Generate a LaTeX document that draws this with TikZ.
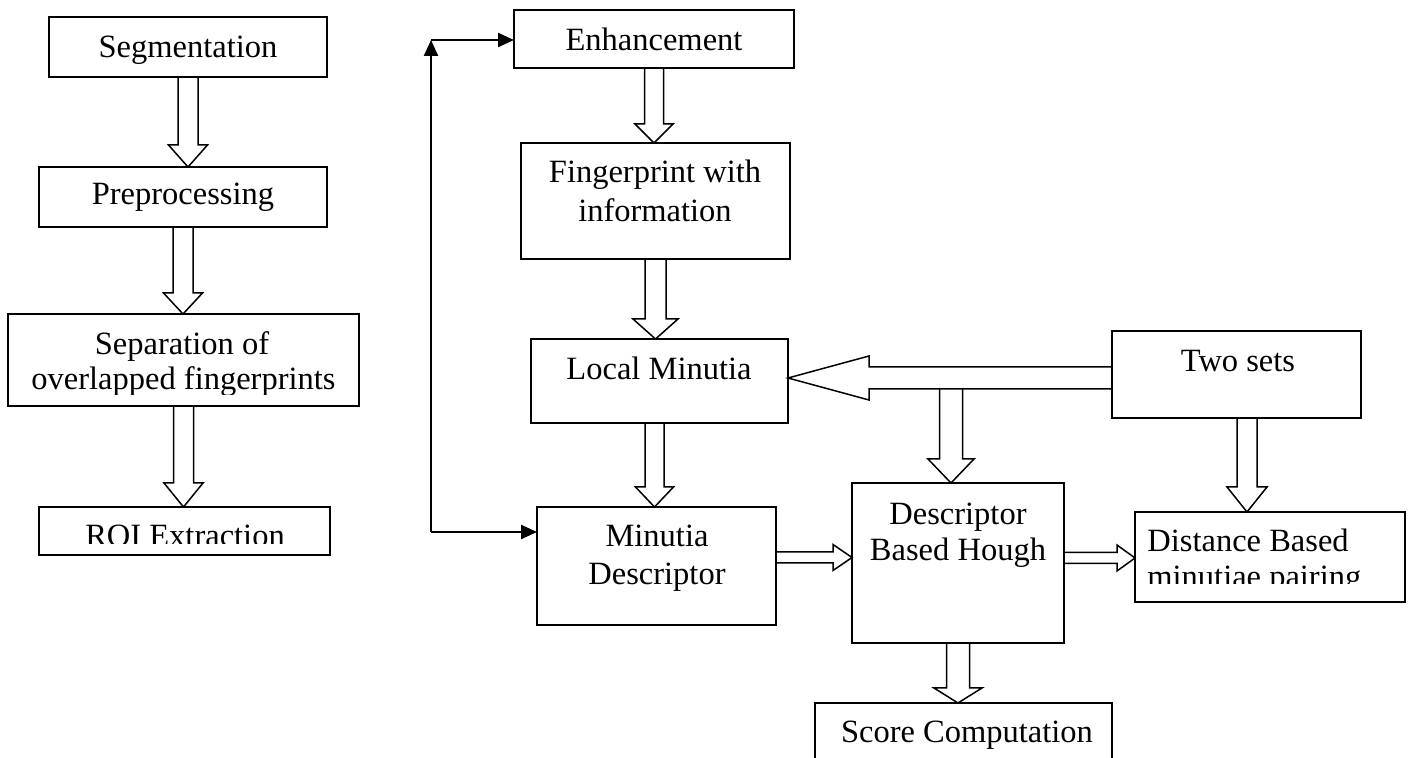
\documentclass[tikz,border=0pt]{standalone}
\usepackage{fontspec}
\setmainfont{Liberation Serif}
\usetikzlibrary{calc,arrows.meta}

\tikzset{
  box/.style={draw, line width=1pt, inner sep=0pt, outer sep=0pt},
  txt/.style={anchor=base, inner sep=0pt, font=\fontsize{16.25pt}{18.5pt}\selectfont},
  blockarrow/.style={draw, line width=0.75pt, line join=miter},
  fbline/.style={line width=1.2pt, -{Triangle[length=8pt,width=7pt]}}
}

% hollow block arrows: from, to, half shaft, half head, head length
\newcommand{\blockdown}[5]{%
  \draw[blockarrow] let \p1=(#1), \p2=(#2) in
    (\x1-#3,\y1) -- (\x1-#3,\y2+#5) -- (\x1-#4,\y2+#5) -- (\x1,\y2)
    -- (\x1+#4,\y2+#5) -- (\x1+#3,\y2+#5) -- (\x1+#3,\y1);}
\newcommand{\blockright}[5]{%
  \draw[blockarrow] let \p1=(#1), \p2=(#2) in
    (\x1,\y1+#3) -- (\x2-#5,\y1+#3) -- (\x2-#5,\y1+#4) -- (\x2,\y1)
    -- (\x2-#5,\y1-#4) -- (\x2-#5,\y1-#3) -- (\x1,\y1-#3);}
\newcommand{\blockleft}[5]{%
  \draw[blockarrow] let \p1=(#1), \p2=(#2) in
    (\x1,\y1+#3) -- (\x2+#5,\y1+#3) -- (\x2+#5,\y1+#4) -- (\x2,\y1)
    -- (\x2+#5,\y1-#4) -- (\x2+#5,\y1-#3) -- (\x1,\y1-#3);}

\begin{document}
\begin{tikzpicture}[x=0.5pt,y=-0.5pt]
\useasboundingbox (0,0) rectangle (1410,758);
\clip (0,0) rectangle (1410,758);

% left column
\node[box, minimum width=139pt, minimum height=30pt] (seg) at (188,47) {};
\node[box, minimum width=144pt, minimum height=30pt] (prep) at (183,197) {};
\node[box, minimum width=175.5pt, minimum height=46pt] (sep) at (183.5,360) {};
\node[box, minimum width=145.5pt, minimum height=24pt] (roi) at (184.5,531) {};

    \node[txt] (segtxt) at (188,58) {Segmentation};
    \node[txt] (preptxt) at (183,205) {Preprocessing};
    \node[txt] (septxt) at (182,355) {Separation of};
    \begin{scope}
      \clip (8,314) rectangle (359,395);
      \node[txt] (septxtb) at (183.5,390) {overlapped fingerprints};
    \end{scope}
    \begin{scope}
      \clip (39,507) rectangle (330,544);
      \node[txt] (roitxt) at (185,547) {ROI Extraction};
    \end{scope}

% middle column
\node[box, minimum width=140pt, minimum height=29pt] (enh) at (654,39) {};
\node[box, minimum width=134.5pt, minimum height=58pt] (fing) at (655.5,201) {};
\node[box, minimum width=128.5pt, minimum height=42pt] (loc) at (659.5,381) {};
\node[box, minimum width=119.5pt, minimum height=59pt] (mdesc) at (656.5,566) {};

    \node[txt] (enhtxt) at (654,51) {Enhancement};
    \node[txt] (fingtxt) at (655,183) {Fingerprint with};
    \node[txt] (fingtxtb) at (655,222) {information};
    \node[txt] (loctxt) at (659,380) {Local Minutia};
    \node[txt] (mdesctxt) at (657,547) {Minutia};
    \node[txt] (mdesctxtb) at (657,585) {Descriptor};

% right part
\node[box, minimum width=106pt, minimum height=80pt] (hough) at (958,563) {};
\node[box, minimum width=124.5pt, minimum height=43.5pt] (two) at (1236.5,374.5) {};
\node[box, minimum width=135pt, minimum height=45pt] (dist) at (1270,557) {};
\node[box, minimum width=148.5pt, minimum height=38.5pt] (score) at (963.5,741.5) {};

    \node[txt] (houghtxt) at (958,525) {Descriptor};
    \node[txt] (houghtxtb) at (958,561) {Based Hough};
    \node[txt] (twotxt) at (1238,372) {Two sets};
    \node[txt, anchor=base west] (disttxt) at (1147,552) {Distance Based};
    \begin{scope}
      \clip (1135,512) rectangle (1405,584);
      \node[txt, anchor=base west] (disttxtb) at (1147,588) {minutiae pairing};
    \end{scope}
    \node[txt] (scoretxt) at (967,743) {Score Computation};

% hollow arrows
\blockdown{seg.south}{prep.north}{5pt}{9.75pt}{11pt}
\blockdown{prep.south}{sep.north}{5pt}{9.75pt}{10.5pt}
\blockdown{sep.south}{roi.north}{5pt}{9.75pt}{12pt}
\blockdown{enh.south}{fing.north}{4.75pt}{9.5pt}{9.5pt}
\blockdown{fing.south}{loc.north}{5.25pt}{11.25pt}{10pt}
\blockdown{$(loc.south)+(-5,0)$}{mdesc.north}{4.75pt}{9.5pt}{10pt}
\blockright{$(mdesc.east)+(0,-8.5)$}{hough.west}{2.75pt}{6.5pt}{9.5pt}
\blockright{$(hough.east)+(0,-5)$}{dist.west}{2.75pt}{6.5pt}{9pt}
\blockdown{hough.south}{score.north}{5.75pt}{12pt}{7.5pt}
\blockdown{$(two.south)+(10.5,0)$}{dist.north}{5pt}{10pt}{12.5pt}
\blockleft{$(two.west)+(0,3.5)$}{loc.east}{5.5pt}{11pt}{40.5pt}
\coordinate (branch) at (951,388);
\blockdown{branch}{hough.north}{5.75pt}{11.5pt}{12pt}

% feedback line
\coordinate (fbbot) at (431,532);
\coordinate (fbtop) at (431,40);
\draw[fbline] (fbbot) -- (fbtop);
\draw[fbline] (fbtop) -- (fbtop -| enh.west);
\draw[fbline] (fbbot) -- (fbbot -| mdesc.west);
\end{tikzpicture}
\end{document}
